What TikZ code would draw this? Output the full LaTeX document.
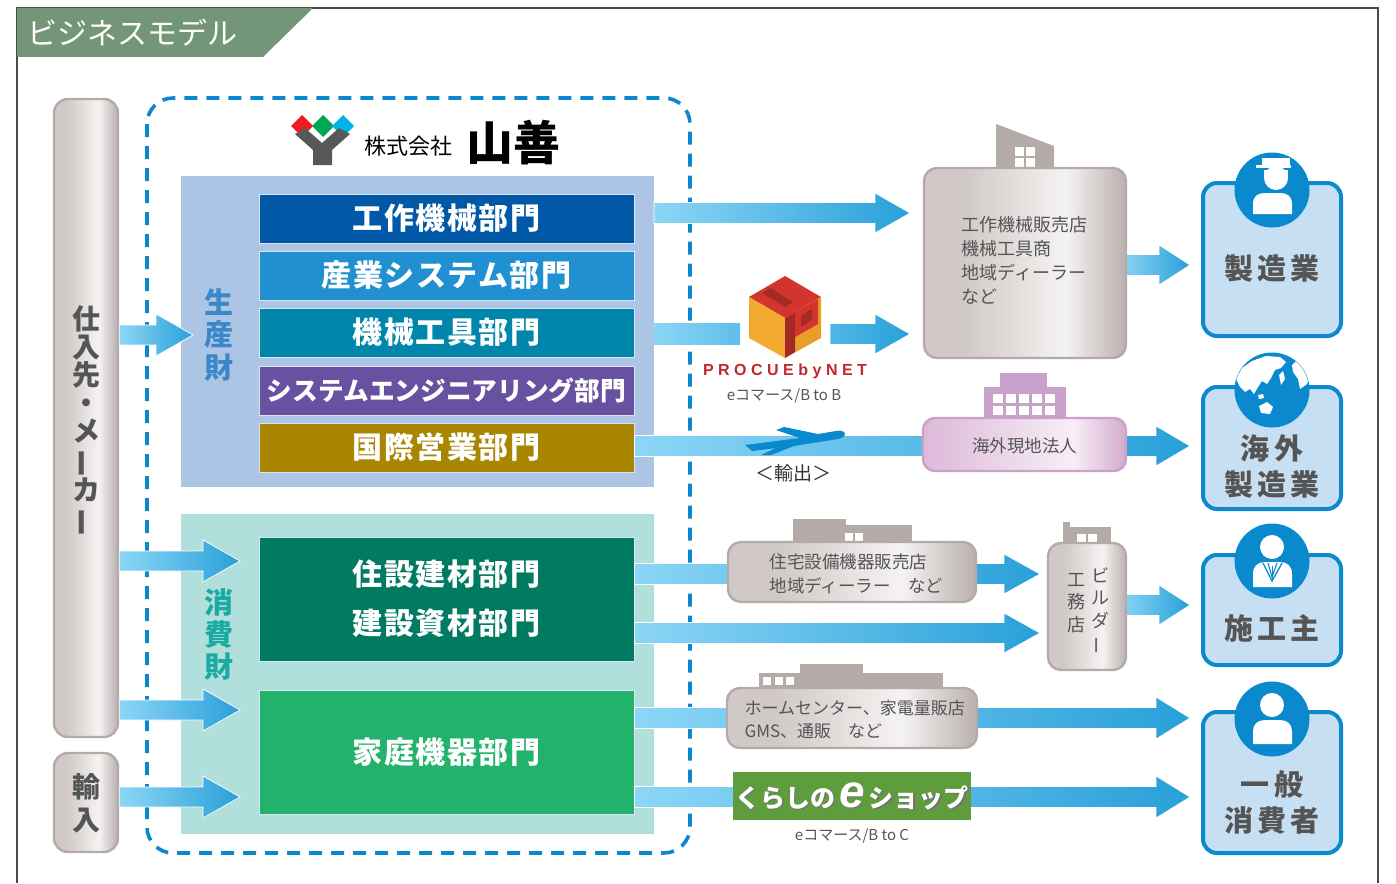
\documentclass[tikz,border=0pt]{standalone}
\usepackage{fontspec}
\setmainfont{Noto Sans CJK JP}
\newfontfamily\latinsans{Liberation Sans}
\usetikzlibrary{calc}

\definecolor{tabgreen}{HTML}{739679}
\definecolor{frameline}{HTML}{4A4A4A}
\definecolor{dashblue}{HTML}{0A88CF}
\definecolor{prodbg}{HTML}{ADC5E5}
\definecolor{consbg}{HTML}{B1DFDB}
\definecolor{dA}{HTML}{0058A6}
\definecolor{dB}{HTML}{2090D0}
\definecolor{dC}{HTML}{0086AA}
\definecolor{dD}{HTML}{6851A0}
\definecolor{dE}{HTML}{A88600}
\definecolor{dF}{HTML}{017A62}
\definecolor{dG}{HTML}{22B26C}
\definecolor{prodtxt}{HTML}{3B87C9}
\definecolor{constxt}{HTML}{19ABA3}
\definecolor{arrL}{HTML}{8CD6F6}
\definecolor{arrR}{HTML}{28A0D9}
\definecolor{gL}{HTML}{D0C9C7}
\definecolor{gM}{HTML}{F5F3F2}
\definecolor{gR}{HTML}{B9B0AE}
\definecolor{gEdge}{HTML}{B4ABA8}
\definecolor{bld}{HTML}{B4AAA7}
\definecolor{pL}{HTML}{DDB9D9}
\definecolor{pM}{HTML}{F7EEF6}
\definecolor{pR}{HTML}{D3ABCF}
\definecolor{pEdge}{HTML}{C9A1C9}
\definecolor{pbld}{HTML}{C8A2CA}
\definecolor{custfill}{HTML}{C7DFF2}
\definecolor{custblue}{HTML}{0A89CE}
\definecolor{txtgrey}{HTML}{555555}
\definecolor{shopgreen}{HTML}{5E9C3D}
\definecolor{procred}{HTML}{C1272D}
\definecolor{cubered}{HTML}{D3342B}
\definecolor{cubedark}{HTML}{A52A26}
\definecolor{cubeorL}{HTML}{F2AA2E}
\definecolor{cubeorR}{HTML}{E99E2A}
\definecolor{logogrey}{HTML}{58585A}
\definecolor{logored}{HTML}{ED1C24}
\definecolor{logogreen}{HTML}{00A650}
\definecolor{logocyan}{HTML}{00B2E8}

% gradients for the grey and pink shop boxes (path spans 25bp..75bp)
\pgfdeclarehorizontalshading{greyshade}{100bp}{color(0bp)=(gL); color(25bp)=(gL); color(35bp)=(gL); color(60bp)=(gM); color(75bp)=(gR); color(100bp)=(gR)}
\pgfdeclarehorizontalshading{pinkshade}{100bp}{color(0bp)=(pL); color(25bp)=(pL); color(62bp)=(pM); color(75bp)=(pR); color(100bp)=(pR)}

\newcommand\vbar{\rotatebox[origin=c]{90}{ー}}

% block arrow: start, tip, shaft half height, head half height, head length
\newcommand\blockarrow[5]{%
  \shadedraw[arrowbody] let \p1=(#1), \p2=(#2) in
    (\x1,\y1+#3) -- (\x2-#5,\y1+#3) -- (\x2-#5,\y1+#4) -- (\x2,\y1)
    -- (\x2-#5,\y1-#4) -- (\x2-#5,\y1-#3) -- (\x1,\y1-#3) -- cycle;}

\begin{document}
\begin{tikzpicture}[x=1pt,y=-1pt,
  arrowbody/.style={left color=arrL, right color=arrR, draw=white, line width=0.7pt},
  area/.style={anchor=north west, inner sep=0pt, outer sep=0pt},
  dept/.style={draw=white!55!prodbg, line width=0.8pt, minimum width=375pt, minimum height=49pt,
    inner sep=0pt, text=white, font=\fontsize{30}{34}\selectfont\bfseries\addfontfeature{LetterSpace=5}},
  grbox/.style={shade, shading=greyshade, draw=gEdge, line width=2.4pt, rounded corners=13pt, inner sep=0pt},
  pkbox/.style={shade, shading=pinkshade, draw=pEdge, line width=2.4pt, rounded corners=12pt, inner sep=0pt},
  custbox/.style={fill=custfill, draw=custblue, line width=4pt, rounded corners=14pt, minimum width=138pt, inner sep=0pt},
  custtxt/.style={text=txtgrey, align=center, font=\fontsize{29}{36}\selectfont\bfseries\addfontfeature{LetterSpace=14}},
  shoptxt/.style={text=txtgrey, align=left, font=\fontsize{17.5}{24}\selectfont},
  vtxt/.style={align=center, inner sep=0pt, font=\fontsize{28}{28}\selectfont\bfseries},
  note/.style={text=txtgrey, font=\fontsize{15}{18}\selectfont},
]
\useasboundingbox (0,0) rectangle (1396,883);

% outer frame and title tab
\draw[frameline, line width=1.3pt] (17,883) -- (17,8) -- (1378,8) -- (1378,883);
\fill[tabgreen] (17,8) -- (313,8) -- (263,57) -- (17,57) -- cycle;
\node[anchor=west, text=white, font=\fontsize{30}{30}\selectfont, inner sep=0pt] (title) at (27,33) {ビジネスモデル};

% company boundary
\draw[dashblue, line width=3.6pt, dash pattern=on 13pt off 9pt, rounded corners=26pt] (147,98) rectangle (690,853);

% supplier pillars
\node[grbox, rounded corners=14pt, minimum width=64pt, minimum height=638pt] (pillar) at (86,418) {};
\node[vtxt, text=txtgrey, font=\fontsize{28}{28}\selectfont\bfseries] (pillartxt) at (86,421)
  {仕\\入\\先\\・\\メ\\\vbar\\カ\\\vbar};
\node[grbox, rounded corners=14pt, minimum width=64pt, minimum height=99pt] (import) at (86,802.5) {};
\node[vtxt, text=txtgrey, font=\fontsize{28}{33}\selectfont\bfseries] (importtxt) at (86,803) {輸\\入};

% company logo
\fill[logored] (302,115) -- (313,126) -- (302,137) -- (291,126) -- cycle;
\fill[logogreen] (323,115) -- (334,126) -- (323,137) -- (312,126) -- cycle;
\fill[logocyan] (343,115) -- (354,126) -- (343,137) -- (332,126) -- cycle;
\fill[logogrey] (295,134) -- (305,128) -- (322,143) -- (339,128) -- (350,134) -- (332,150) -- (332,165) -- (313,165) -- (313,150) -- cycle;
\node[anchor=west, inner sep=0pt, font=\fontsize{22}{22}\selectfont] (kabu) at (364,146) {株式会社};
\node[anchor=west, inner sep=0pt, font=\fontsize{47}{47}\selectfont\bfseries] (yamazen) at (466,143) {山善};

% product groups
\node[area, fill=prodbg, minimum width=473pt, minimum height=311pt] (prodarea) at (181,176) {};
\node[area, fill=consbg, minimum width=473pt, minimum height=320pt] (consarea) at (181,514) {};
\node[vtxt, text=prodtxt, font=\fontsize{29}{32.5}\selectfont\bfseries] (prodlbl) at (219,335) {生\\産\\財};
\node[vtxt, text=constxt, font=\fontsize{29}{32}\selectfont\bfseries] (conslbl) at (219,634) {消\\費\\財};

% divisions
\node[dept, fill=dA] (dA) at (446.5,218.5) {工作機械部門};
\node[dept, fill=dB] (dB) at (446.5,275.5) {産業システム部門};
\node[dept, fill=dC] (dC) at (446.5,332.5) {機械工具部門};
\node[dept, fill=dD, font=\fontsize{25.7}{30}\selectfont\bfseries] (dD) at (446.5,390.5) {システムエンジニアリング部門};
\node[dept, fill=dE] (dE) at (446.5,447.5) {国際営業部門};
\node[dept, fill=dF, minimum height=124pt, align=center, font=\fontsize{30}{49}\selectfont\bfseries\addfontfeature{LetterSpace=5}] (dF) at (446.5,599) {住設建材部門\\建設資材部門};
\node[dept, fill=dG, minimum height=124pt] (dG) at (446.5,752) {家庭機器部門};

% arrow end points
\coordinate (L1s) at (pillar.east |- 0,335);
\coordinate (L1t) at (193,335);
\coordinate (L2s) at (pillar.east |- 0,561);
\coordinate (L2t) at (240,561);
\coordinate (L3s) at (pillar.east |- 0,710);
\coordinate (L3t) at (240,710);
\coordinate (L4s) at (import.east |- 0,797);
\coordinate (L4t) at (240,797);

\coordinate (R1s) at (prodarea.east |- 0,213);
\coordinate (R1t) at (910,213);
\coordinate (R2s) at (prodarea.east |- 0,334);
\coordinate (R2m) at (740,334);
\coordinate (R2b) at (830,334);
\coordinate (R2t) at (910,334);
\coordinate (R3s) at (dE.east |- 0,446);
\coordinate (R3t) at (1190,446);
\coordinate (R4s) at (dF.east |- 0,574);
\coordinate (R4t) at (1040,574);
\coordinate (R5s) at (dF.east |- 0,633);
\coordinate (R5t) at (1040,633);
\coordinate (R6s) at (dG.east |- 0,718);
\coordinate (R6t) at (1190,718);
\coordinate (R7s) at (dG.east |- 0,797);
\coordinate (R7t) at (1190,797);
\coordinate (G1s) at (1120,265);
\coordinate (G1t) at (1190,265);
\coordinate (B1s) at (1120,605);
\coordinate (B1t) at (1190,605);

% inflow arrows
\blockarrow{L1s}{L1t}{10pt}{21pt}{37pt}
\blockarrow{L2s}{L2t}{10pt}{21pt}{37pt}
\blockarrow{L3s}{L3t}{10pt}{21pt}{37pt}
\blockarrow{L4s}{L4t}{10pt}{21pt}{37pt}

% outflow arrows
\blockarrow{R1s}{R1t}{10.5pt}{20pt}{35pt}
\shade[left color=arrL, right color=arrL!55!arrR] (R2s |- 0,323.5) rectangle (R2m |- 0,344.5);
\shade[left color=arrL!40!arrR, right color=arrR, draw=white, line width=0.7pt]
  (R2b |- 0,323.5) -- (875,323.5) -- (875,314) -- (R2t) -- (875,354) -- (875,344.5) -- (R2b |- 0,344.5) -- cycle;
\blockarrow{R3s}{R3t}{10.5pt}{20pt}{34pt}
\blockarrow{R4s}{R4t}{10.5pt}{20pt}{36pt}
\blockarrow{R5s}{R5t}{10.5pt}{20pt}{36pt}
\blockarrow{R6s}{R6t}{10.5pt}{21pt}{34pt}
\blockarrow{R7s}{R7t}{10.5pt}{21pt}{34pt}
\blockarrow{G1s}{G1t}{10.5pt}{20pt}{31pt}
\blockarrow{B1s}{B1t}{10.5pt}{20pt}{31pt}

% PROCUEbyNET cube
\fill[cubered] (785,276) -- (821,297) -- (785,318) -- (749,297) -- cycle;
\fill[cubeorL] (749,297) -- (785,318) -- (785,358) -- (749,338) -- cycle;
\fill[cubeorR] (785,318) -- (821,297) -- (821,338) -- (785,358) -- cycle;
\fill[cubedark] (770,288) -- (793,302) -- (785,307) -- (762,293) -- cycle;
\fill[cubedark] (785,318) -- (795,312) -- (795,352) -- (785,358) -- cycle;
\fill[cubered] (795,312) -- (818,299) -- (818,324) -- (795,337) -- cycle;
\fill[cubedark] (801,316) -- (812,309) -- (812,320) -- (801,327) -- cycle;
\node[inner sep=0pt, text=procred, font=\latinsans\fontsize{16}{16}\selectfont\bfseries\addfontfeature{LetterSpace=28}] (procue) at (785,371) {PROCUEbyNET};
\node[note] (b2b) at (784,396) {eコマース/B to B};

% dealers for production goods
\fill[bld] (996,169) -- (996,124) -- (1054,146) -- (1054,169) -- cycle;
\foreach \wx/\wy in {1015/147,1026/147,1015/158,1026/158} \fill[white] (\wx,\wy) rectangle ++(9,9);
\node[grbox, minimum width=202pt, minimum height=190pt] (dealer1) at (1025,263) {};
\node[shoptxt, anchor=west, font=\fontsize{18}{24}\selectfont] (dealer1txt) at (958,260) {工作機械販売店\\機械工具商\\地域ディーラー\\など};

% overseas subsidiaries
\fill[pbld] (1000,373) rectangle (1047,388);
\fill[pbld] (984,387) rectangle (1066,420);
\foreach \wx in {993,1006,1019,1032,1045} \foreach \wy in {394,406} \fill[white] (\wx,\wy) rectangle ++(10,9);
\node[pkbox, minimum width=203pt, minimum height=53pt] (overseas) at (1024.5,444.5) {};
\node[shoptxt, font=\fontsize{17.5}{20}\selectfont] (overseastxt) at (1024.5,446) {海外現地法人};

% export plane
\fill[custblue] (745,445) -- (800,438) -- (776,430) -- (784,427) -- (818,434) -- (836,431)
  .. controls (847,429) and (848,437) .. (838,439) -- (794,446) -- (771,455) -- (761,455) -- (776,448) -- (752,451) -- cycle;
\node[inner sep=0pt, text=black!80, font=\fontsize{19}{19}\selectfont] (export) at (793,473) {＜輸出＞};

% housing equipment dealers
\fill[bld] (793,519) rectangle (846,543);
\fill[bld] (845,525) rectangle (912,543);
\foreach \wx in {845,855} \fill[white] (\wx,533) rectangle ++(8,9);
\node[grbox, minimum width=248pt, minimum height=60pt] (dealer2) at (852,572) {};
\node[shoptxt, anchor=west] (dealer2txt) at (766,574) {住宅設備機器販売店\\地域ディーラー　など};

% builders
\fill[bld] (1063,522) rectangle (1070,528);
\fill[bld] (1063,527) rectangle (1111,544);
\foreach \wx in {1077,1088} \fill[white] (\wx,534) rectangle ++(9,9);
\node[grbox, minimum width=78pt, minimum height=127pt] (builder) at (1087,606.5) {};
\node[vtxt, text=txtgrey, font=\fontsize{18}{22.5}\selectfont] (buildertxt1) at (1100,611) {ビ\\ル\\ダ\\\vbar};
\node[vtxt, text=txtgrey, font=\fontsize{18}{22.5}\selectfont] (buildertxt2) at (1076,603) {工\\務\\店};

% home centres
\fill[bld] (800,664) rectangle (863,689);
\fill[bld] (759,673) rectangle (943,689);
\foreach \wx in {763,775,786} \fill[white] (\wx,677) rectangle ++(8,8);
\node[grbox, minimum width=250pt, minimum height=60pt] (dealer3) at (852,718) {};
\node[shoptxt, anchor=west, font=\fontsize{17}{23}\selectfont] (dealer3txt) at (741,720) {ホームセンター、家電量販店\\GMS、通販　など};

% online shop
\node[fill=shopgreen, minimum width=238pt, minimum height=48pt, inner sep=0pt] (eshop) at (852,796) {};
\node[inner sep=0pt, text=black!55, font=\fontsize{25}{25}\selectfont\bfseries] (eshopshadow) at (853.5,797.5)
  {くらしの\hspace{4pt}{\latinsans\fontsize{46}{46}\selectfont\bfseries\itshape e}\hspace{4pt}ショップ};
\node[inner sep=0pt, text=white, font=\fontsize{25}{25}\selectfont\bfseries] (eshoptxt) at (852,796)
  {くらしの\hspace{4pt}{\latinsans\fontsize{46}{46}\selectfont\bfseries\itshape e}\hspace{4pt}ショップ};
\node[note] (b2c) at (852,836) {eコマース/B to C};

% customers
\node[custbox, minimum height=153pt] (cust1) at (1272,259.5) {};
\node[custbox, minimum height=122pt] (cust2) at (1272,448) {};
\node[custbox, minimum height=110pt] (cust3) at (1272,610) {};
\node[custbox, minimum height=141pt] (cust4) at (1272,782.5) {};
\fill[custblue] (1272,190) circle (37.5);
\fill[custblue] (1272,390) circle (37.5);
\fill[custblue] (1272,561) circle (37.5);
\fill[custblue] (1272,719) circle (37.5);

% manufacturer icon
\fill[white] (1262,158) rectangle (1290,165);
\fill[white] (1256,164.5) rectangle (1291,167.5);
\fill[white] (1264,169.5) rectangle (1288,178);
\fill[white] (1276,178) circle (12);
\fill[white] (1253,214) -- (1253,204) .. controls (1253,196) and (1258,193) .. (1265,193) -- (1280,193)
  .. controls (1287,193) and (1292,196) .. (1292,204) -- (1292,214) -- cycle;

% globe icon
\begin{scope}
  \clip (1272,390) circle (37);
  \fill[white] (1236,379) -- (1242,368) -- (1252,361) -- (1266,356) -- (1280,357) -- (1286,362) -- (1281,368)
    -- (1275,370) -- (1271,378) -- (1267,384) -- (1262,381) -- (1258,387) -- (1254,394) -- (1250,389)
    -- (1245,392) -- (1240,387) -- cycle;
  \fill[white] (1279,375) -- (1283,371) -- (1285,379) -- (1281,385) -- cycle;
  \fill[white] (1292,365) -- (1300,357) -- (1309,361) -- (1311,372) -- (1307,384) -- (1300,389) -- (1298,379) -- (1293,372) -- cycle;
  \fill[white] (1259,406) -- (1267,402) -- (1273,407) -- (1270,414) -- (1261,413) -- cycle;
  \fill[white] (1258,395) -- (1263,394) -- (1264,398) -- (1259,399) -- cycle;
\end{scope}

% contractor icon
\fill[white] (1272,547) circle (12);
\fill[white] (1253,587) -- (1253,574) .. controls (1253,566) and (1258,562) .. (1265,562) -- (1280,562)
  .. controls (1287,562) and (1292,566) .. (1292,574) -- (1292,587) -- cycle;
\draw[custblue, line width=1.3pt] (1263,563) -- (1272,581) -- (1282,563);
\draw[custblue, line width=1.1pt] (1268,563) -- (1272,577) -- (1277,563);
\draw[custblue, line width=1pt] (1272,566) -- (1272,580);

% consumer icon
\fill[white] (1272,705) circle (12);
\fill[white] (1253,744) -- (1253,731) .. controls (1253,724) and (1258,720) .. (1265,720) -- (1280,720)
  .. controls (1287,720) and (1292,724) .. (1292,731) -- (1292,744) -- cycle;

% customer labels
\node[custtxt] (cust1txt) at (1272,268) {製造業};
\node[custtxt] (cust2txt) at (1272,466) {海外\\製造業};
\node[custtxt] (cust3txt) at (1272,628) {施工主};
\node[custtxt] (cust4txt) at (1272,802) {一般\\消費者};
\end{tikzpicture}
\end{document}
